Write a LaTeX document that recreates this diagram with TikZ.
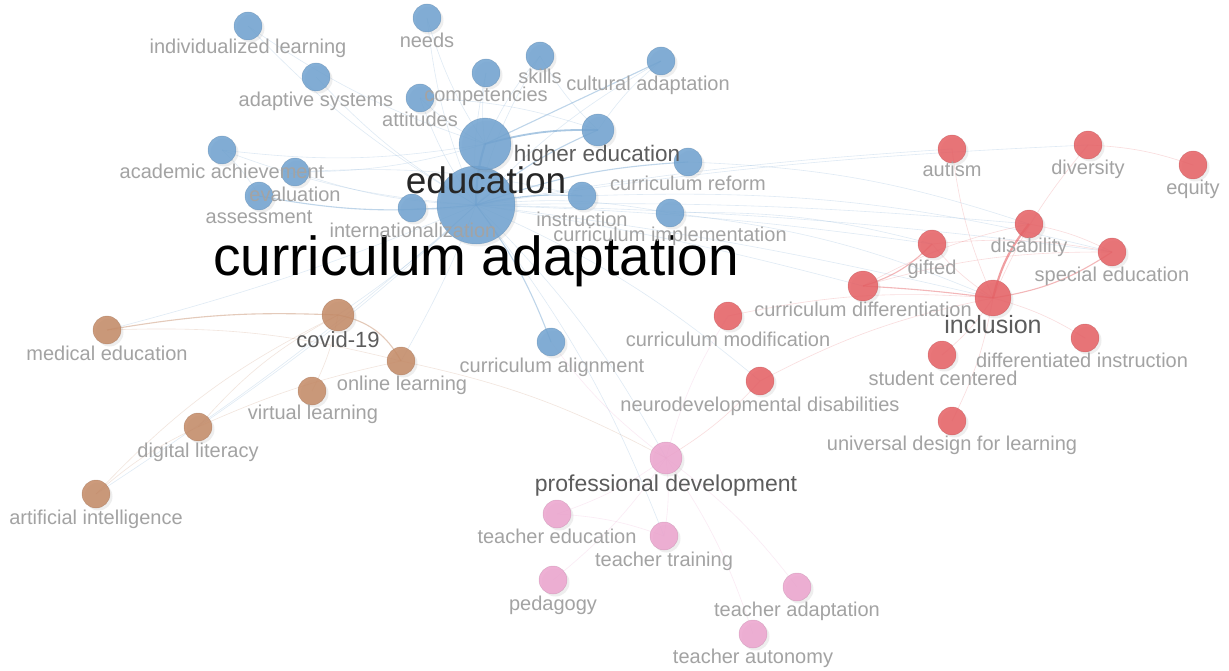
\documentclass[tikz,border=0pt]{standalone}
\usepackage{fontspec}
\setmainfont{Liberation Sans}
\usetikzlibrary{shadows}
\pgfdeclarelayer{bg}
\pgfdeclarelayer{edges}
\pgfdeclarelayer{labels}
\pgfsetlayers{bg,edges,main,labels}
\definecolor{cblue}{RGB}{112,162,208}
\definecolor{cred}{RGB}{230,96,100}
\definecolor{cbrown}{RGB}{196,138,102}
\definecolor{cpink}{RGB}{236,164,206}
\definecolor{labgray}{RGB}{163,163,163}
\definecolor{labmid}{RGB}{92,92,92}
\definecolor{labdark}{RGB}{38,38,38}
\tikzset{
  kw/.style={circle, inner sep=0pt, fill=#1, draw=#1!78!black, line width=0.5pt,
    fill opacity=0.86, draw opacity=0.4,
    drop shadow={opacity=0.13, shadow xshift=2.5pt, shadow yshift=-2.5pt}},
  bn/.style={kw=cblue},
  rn/.style={kw=cred},
  brn/.style={kw=cbrown},
  pn/.style={kw=cpink},
  lab/.style={inner sep=0pt, anchor=base, yshift=-7pt, text=labgray,
    font=\fontsize{20}{24}\selectfont},
  labm/.style={lab, text=labmid},
  lnk/.style={line width=0.6pt, draw opacity=0.22, bend left=8},
  lnkm/.style={line width=1.1pt, draw opacity=0.45, bend left=8},
  lnkt/.style={line width=2.2pt, draw opacity=0.6, bend left=8},
}
\begin{document}
\begin{tikzpicture}[x=1pt,y=-1pt]
\begin{pgfonlayer}{bg}
\fill[white] (0,0) rectangle (1229,671);
\end{pgfonlayer}
\useasboundingbox (0,0) rectangle (1229,671);

% ---------- blue cluster ----------
\node[bn, minimum size=78pt] (ca) at (476,205) {};
\node[bn, minimum size=52pt] (edu) at (485,144) {};
\node[bn, minimum size=32pt] (hied) at (598,130) {};
\node[bn, minimum size=28pt] (indl) at (248,26) {};
\node[bn, minimum size=28pt] (needs) at (427,18) {};
\node[bn, minimum size=28pt] (adsys) at (316,77) {};
\node[bn, minimum size=28pt] (comp) at (486,73) {};
\node[bn, minimum size=28pt] (skills) at (540,56) {};
\node[bn, minimum size=28pt] (att) at (420,98) {};
\node[bn, minimum size=28pt] (cult) at (661,61) {};
\node[bn, minimum size=28pt] (acad) at (222,150) {};
\node[bn, minimum size=28pt] (eval) at (295,172) {};
\node[bn, minimum size=28pt] (assess) at (259,196) {};
\node[bn, minimum size=28pt] (intl) at (412,208) {};
\node[bn, minimum size=28pt] (instr) at (582,196) {};
\node[bn, minimum size=28pt] (cref) at (688,162) {};
\node[bn, minimum size=28pt] (cimp) at (670,213) {};
\node[bn, minimum size=28pt] (calign) at (551,342) {};

% ---------- brown cluster ----------
\node[brn, minimum size=28pt] (med) at (107,330) {};
\node[brn, minimum size=32pt] (covid) at (338,315) {};
\node[brn, minimum size=28pt] (online) at (401,361) {};
\node[brn, minimum size=28pt] (virtual) at (312,391) {};
\node[brn, minimum size=28pt] (digital) at (198,427) {};
\node[brn, minimum size=28pt] (ai) at (96,494) {};

% ---------- red cluster ----------
\node[rn, minimum size=28pt] (autism) at (952,149) {};
\node[rn, minimum size=28pt] (divers) at (1088,145) {};
\node[rn, minimum size=28pt] (equity) at (1193,165) {};
\node[rn, minimum size=28pt] (disab) at (1029,224) {};
\node[rn, minimum size=28pt] (gifted) at (932,244) {};
\node[rn, minimum size=28pt] (spec) at (1112,252) {};
\node[rn, minimum size=30pt] (cdiff) at (863,286) {};
\node[rn, minimum size=36pt] (incl) at (993,298) {};
\node[rn, minimum size=28pt] (cmod) at (728,316) {};
\node[rn, minimum size=28pt] (stud) at (942,355) {};
\node[rn, minimum size=28pt] (diffi) at (1085,338) {};
\node[rn, minimum size=28pt] (neuro) at (760,381) {};
\node[rn, minimum size=28pt] (udl) at (952,421) {};

% ---------- pink cluster ----------
\node[pn, minimum size=32pt] (pd) at (666,458) {};
\node[pn, minimum size=28pt] (tedu) at (557,514) {};
\node[pn, minimum size=28pt] (ttrain) at (664,536) {};
\node[pn, minimum size=28pt] (ped) at (553,580) {};
\node[pn, minimum size=28pt] (tadapt) at (797,587) {};
\node[pn, minimum size=28pt] (tauto) at (753,634) {};

% ---------- links ----------
\begin{pgfonlayer}{edges}
\draw[cblue, lnkt] (ca.center) to (edu.center);
\draw[cblue, lnkt, line width=1.8pt] (edu.center) to (hied.center);
\draw[cblue, lnkm] (ca.center) to (instr.center);
\draw[cblue, lnkm] (ca.center) to (assess.center);
\draw[cblue, lnkm] (ca.center) to (cref.center);
\draw[cblue, lnkm] (ca.center) to (calign.center);
\draw[cblue, lnkm] (ca.center) to (hied.center);
\draw[cblue, lnkm, bend left=0] (edu.center) to (cult.center);
\foreach \t in {indl,adsys,needs,comp,skills,att,cult,acad,eval,intl,cimp}
  \draw[cblue, lnk] (ca.center) to (\t.center);
\foreach \t in {att,comp,skills,needs,acad,eval,indl}
  \draw[cblue, lnk] (edu.center) to (\t.center);
\draw[cblue, lnk] (att.center) to (hied.center);
\draw[cblue, lnk] (hied.center) to (skills.center);
\draw[cblue, lnk] (hied.center) to (cult.center);
\draw[cblue, lnk] (acad.center) to (assess.center);
\draw[cblue, lnk] (eval.center) to (instr.center);
\foreach \t in {gifted,disab,spec,incl,cdiff,divers,autism}
  \draw[cblue, lnk, bend left=3] (ca.center) to (\t.center);
\draw[cblue, lnk] (cimp.center) to (incl.center);
\draw[cblue, lnk] (instr.center) to (spec.center);
\draw[cblue, lnk] (cref.center) to (disab.center);
\draw[cblue, lnk] (cimp.center) to (gifted.center);
\foreach \t in {covid,online,digital,ai,med}
  \draw[cblue, lnk, bend left=4] (ca.center) to (\t.center);
\draw[cblue, lnk] (ca.center) to (pd.center);
\draw[cblue, lnk] (ca.center) to (ttrain.center);
\draw[cblue, lnk] (ca.center) to (neuro.center);
% brown
\draw[cbrown, lnkm, bend left=6] (med.center) to (covid.center);
\draw[cbrown, lnkm, bend left=25] (covid.center) to (online.center);
\draw[cbrown, lnk] (med.center) to (online.center);
\draw[cbrown, lnk, bend left=10] (digital.center) to (covid.center);
\draw[cbrown, lnk, bend left=10] (ai.center) to (covid.center);
\draw[cbrown, lnk, bend left=6] (digital.center) to (online.center);
\draw[cbrown, lnk] (covid.center) to (virtual.center);
\draw[cbrown, lnk] (ai.center) to (digital.center);
\draw[cbrown, lnk] (online.center) to (pd.center);
% red
\draw[cred, lnkt, bend left=12] (incl.center) to (disab.center);
\draw[cred, lnkm, bend right=12] (incl.center) to (spec.center);
\draw[cred, lnkm, bend right=14] (cdiff.center) to (gifted.center);
\draw[cred, lnkm, bend left=2] (cdiff.center) to (incl.center);
\foreach \t in {autism,divers,diffi,udl,stud,gifted}
  \draw[cred, lnk] (incl.center) to (\t.center);
\draw[cred, lnk] (divers.center) to (equity.center);
\draw[cred, lnk] (disab.center) to (spec.center);
\draw[cred, lnk] (gifted.center) to (spec.center);
\draw[cred, lnk] (cdiff.center) to (spec.center);
\draw[cred, lnk] (cdiff.center) to (disab.center);
\draw[cred, lnk] (neuro.center) to (incl.center);
\draw[cred, lnk] (cmod.center) to (incl.center);
\draw[cred, lnk] (neuro.center) to (pd.center);
% pink
\foreach \t in {tedu,ttrain,tadapt,tauto,ped}
  \draw[cpink, lnk] (pd.center) to (\t.center);
\draw[cpink, lnk] (tedu.center) to (ttrain.center);
\draw[cpink, lnk] (pd.center) to (cmod.center);
\draw[cpink, lnk] (pd.center) to (calign.center);
\end{pgfonlayer}

% ---------- labels ----------
\begin{pgfonlayer}{labels}
\node[inner sep=0pt, anchor=base, font=\fontsize{55}{60}\selectfont] (ca-l) at (476,275) {curriculum adaptation};
\node[inner sep=0pt, anchor=base, text=labdark, font=\fontsize{37}{42}\selectfont] (edu-l) at (486,194) {education};
\node[labm, font=\fontsize{22.5}{26}\selectfont] (hied-l) at (597,155) {higher education};
\node[lab] (indl-l) at (248,47) {individualized learning};
\node[lab] (needs-l) at (427,41) {needs};
\node[lab] (adsys-l) at (316,100) {adaptive systems};
\node[lab] (comp-l) at (486,95) {competencies};
\node[lab] (skills-l) at (540,77) {skills};
\node[lab] (att-l) at (420,120) {attitudes};
\node[lab] (cult-l) at (648,84) {cultural adaptation};
\node[lab] (acad-l) at (222,172) {academic achievement};
\node[lab] (eval-l) at (295,195) {evaluation};
\node[lab] (assess-l) at (259,217) {assessment};
\node[lab] (intl-l) at (413,230) {internationalization};
\node[lab] (instr-l) at (582,219) {instruction};
\node[lab] (cref-l) at (688,184) {curriculum reform};
\node[lab] (cimp-l) at (670,235) {curriculum implementation};
\node[lab] (calign-l) at (552,365) {curriculum alignment};
\node[lab] (med-l) at (107,353) {medical education};
\node[labm, font=\fontsize{22}{26}\selectfont] (covid-l) at (338,340) {covid-19};
\node[lab] (online-l) at (402,383) {online learning};
\node[lab] (virtual-l) at (313,412) {virtual learning};
\node[lab] (digital-l) at (198,450) {digital literacy};
\node[lab] (ai-l) at (96,517) {artificial intelligence};
\node[lab] (autism-l) at (952,170) {autism};
\node[lab] (divers-l) at (1088,168) {diversity};
\node[lab] (equity-l) at (1193,188) {equity};
\node[lab] (disab-l) at (1029,246) {disability};
\node[lab] (gifted-l) at (932,267) {gifted};
\node[lab] (spec-l) at (1112,274) {special education};
\node[lab] (cdiff-l) at (863,309) {curriculum differentiation};
\node[labm, font=\fontsize{25}{29}\selectfont] (incl-l) at (993,326) {inclusion};
\node[lab] (cmod-l) at (728,339) {curriculum modification};
\node[lab] (stud-l) at (943,378) {student centered};
\node[lab] (diffi-l) at (1082,360) {differentiated instruction};
\node[lab] (neuro-l) at (760,404) {neurodevelopmental disabilities};
\node[lab] (udl-l) at (952,443) {universal design for learning};
\node[labm, font=\fontsize{23}{27}\selectfont] (pd-l) at (666,484) {professional development};
\node[lab] (tedu-l) at (557,536) {teacher education};
\node[lab] (ttrain-l) at (664,559) {teacher training};
\node[lab] (ped-l) at (553,603) {pedagogy};
\node[lab] (tadapt-l) at (797,609) {teacher adaptation};
\node[lab] (tauto-l) at (753,656) {teacher autonomy};
\end{pgfonlayer}
\end{tikzpicture}
\end{document}
